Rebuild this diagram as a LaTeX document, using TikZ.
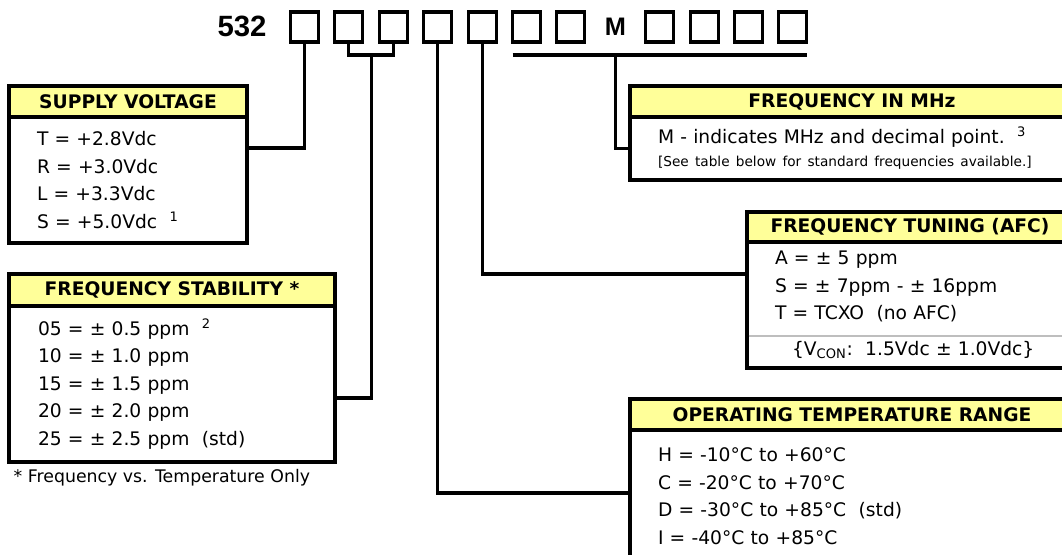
\documentclass[tikz,border=0pt]{standalone}
\usepackage{fontspec}
\setmainfont{DejaVu Sans}
\newfontfamily\partfont{Liberation Sans}
\usetikzlibrary{positioning,calc}
\definecolor{headyellow}{RGB}{255,255,153}
\definecolor{sepgray}{RGB}{190,190,190}

\begin{document}
\begin{tikzpicture}[x=0.75pt, y=-0.75pt,
    digit/.style={draw, line width=2.3pt, minimum width=21pt, minimum height=22.5pt, inner sep=0pt, outer sep=0pt},
    headbox/.style={draw, line width=2.3pt, fill=headyellow, anchor=north west, outer sep=0pt, font=\bfseries\fontsize{14}{16}\selectfont},
    bodybox/.style={draw, line width=2.3pt, outer sep=0pt, inner xsep=21pt, align=left, font=\fontsize{14}{20.6}\selectfont},
    headrule/.style={line width=3.6pt},
    sepline/.style={line width=2.2pt, sepgray},
    wire/.style={line width=2.3pt}
]
\useasboundingbox (0,0) rectangle (1062,554);
\clip (0,0) rectangle (1062,554);

% part number
\node[font=\partfont\bfseries\fontsize{22}{26}\selectfont] (base) at (242,26) {532};
\foreach \i in {1,...,7}
    \node[digit] (d\i) at ({304.5+44.4*(\i-1)},27) {};
\node[font=\partfont\bfseries\fontsize{19}{22}\selectfont] (mhz) at (615.3,27) {M};
\foreach \i in {8,...,11}
    \node[digit] (d\i) at ({304.5+44.4*\i},27) {};

% supply voltage
\node[headbox, minimum width=178.5pt, minimum height=23.25pt] (supplyhead) at (9,86) {SUPPLY VOLTAGE};
\node[bodybox, below=0pt of supplyhead, minimum width=178.5pt, minimum height=94.5pt, text width=136.5pt] (supply)
    {T = +2.8Vdc\\ R = +3.0Vdc\\ L = +3.3Vdc\\ S = +5.0Vdc~~\textsuperscript{1}};
\draw[headrule] (supplyhead.south west) -- (supplyhead.south east);

% frequency stability
\node[headbox, minimum width=244.5pt, minimum height=24pt] (stabhead) at (9,274) {FREQUENCY STABILITY *};
\node[bodybox, below=0pt of stabhead, minimum width=244.5pt, minimum height=117pt, text width=201pt, inner xsep=21.75pt] (stab)
    {05 = ± 0.5 ppm~~\textsuperscript{2}\\ 10 = ± 1.0 ppm\\ 15 = ± 1.5 ppm\\ 20 = ± 2.0 ppm\\ 25 = ± 2.5 ppm~~(std)};
\draw[headrule] (stabhead.south west) -- (stabhead.south east);
\node[anchor=west, font=\fontsize{13}{15}\selectfont] (stabfoot) at ([yshift=-12pt]stab.south west) {* Frequency vs. Temperature Only};

% frequency in MHz
\node[headbox, minimum width=333pt, minimum height=23.25pt] (freqhead) at (630,86) {FREQUENCY IN MHz};
\node[bodybox, below=0pt of freqhead, minimum width=333pt, minimum height=47.25pt, text width=291pt] (freq)
    {M - indicates MHz and decimal point.~~\textsuperscript{3}\\[-3.4pt]
     {\fontsize{10.25}{12}\selectfont [See table below for standard frequencies available.]}};
\draw[headrule] (freqhead.south west) -- (freqhead.south east);

% frequency tuning
\node[headbox, minimum width=244.5pt, minimum height=22.5pt] (afchead) at (747,212) {FREQUENCY TUNING (AFC)};
\node[bodybox, below=0pt of afchead, minimum width=244.5pt, minimum height=94.5pt, text width=202.5pt] (afc)
    {A = ± 5 ppm\\ S = ± 7ppm - ± 16ppm\\ T = TCXO~~(no AFC)\\[6.4pt]
     \hspace*{12.75pt}\{V\textsubscript{CON}:~~1.5Vdc ± 1.0Vdc\}};
\draw[headrule] (afchead.south west) -- (afchead.south east);
\draw[sepline] ([yshift=24pt, xshift=1.2pt]afc.south west) -- ([yshift=24pt]afc.south east);

% operating temperature
\node[headbox, minimum width=333pt, minimum height=23.25pt] (temphead) at (630,399) {OPERATING TEMPERATURE RANGE};
\node[bodybox, below=0pt of temphead, minimum width=333pt, minimum height=99pt, text width=291pt] (temp)
    {H = -10°C to +60°C\\ C = -20°C to +70°C\\ D = -30°C to +85°C~~(std)\\ I = -40°C to +85°C};
\draw[headrule] (temphead.south west) -- (temphead.south east);

% connectors
\draw[wire] (d1.south) |- ([yshift=24pt]supply.east);
\coordinate (brk) at ([yshift=-9.75pt]$(d2.south)!0.5!(d3.south)$);
\draw[wire] (d2.south) |- (brk) -| (d3.south);
\draw[wire] (brk) |- ([yshift=-10.5pt]stab.east);
\draw[wire] (d4.south) |- ([yshift=2.25pt]temp.west);
\draw[wire] (d5.south) |- ([yshift=23.25pt]afc.west);
\coordinate (barl) at ([yshift=-9.75pt]d6.south west);
\coordinate (barr) at ([yshift=-9.75pt]d11.south east);
\draw[wire] (barl) -- (barr);
\draw[wire] (mhz |- barl) |- (freq.west);
\end{tikzpicture}
\end{document}
